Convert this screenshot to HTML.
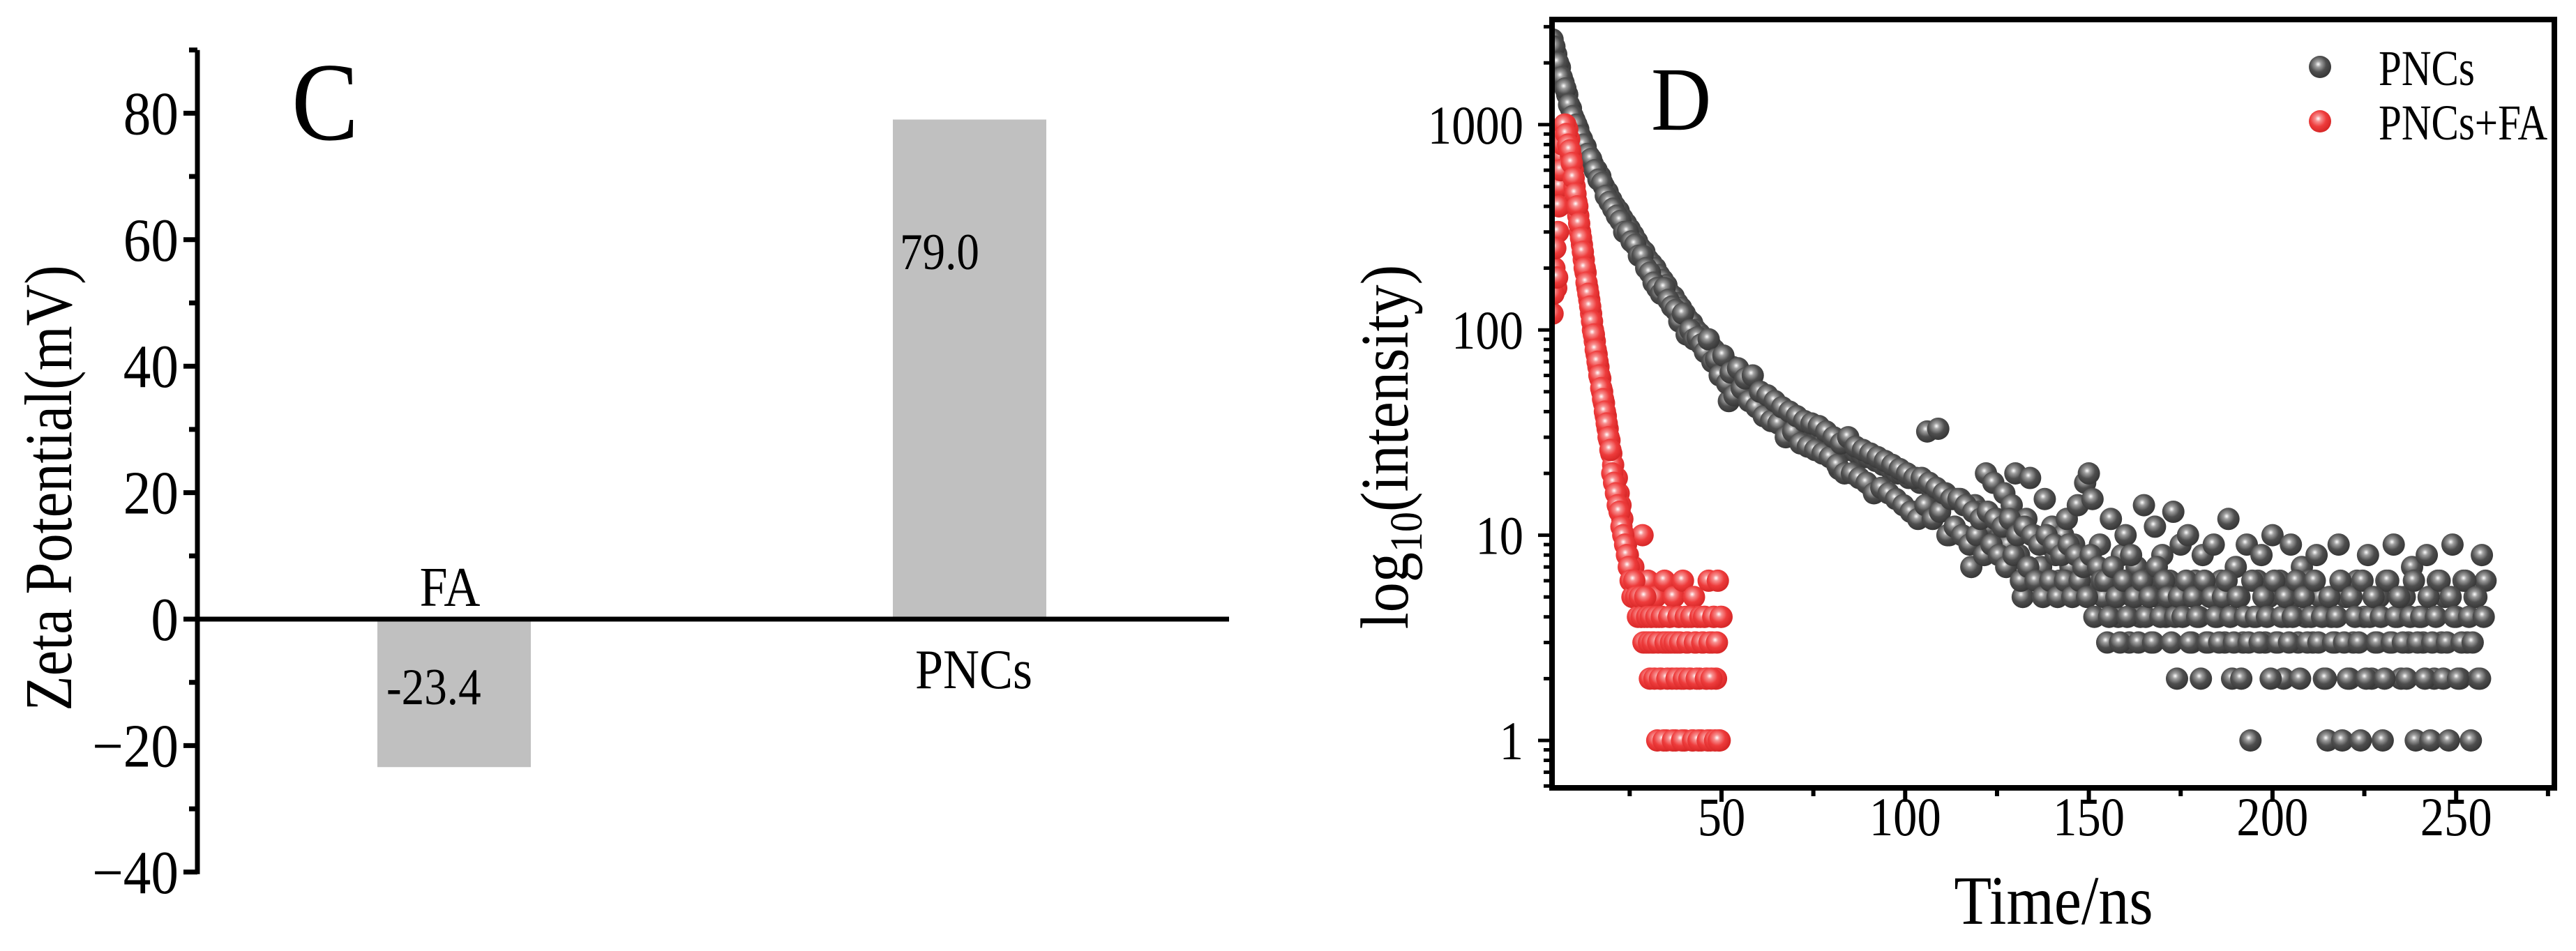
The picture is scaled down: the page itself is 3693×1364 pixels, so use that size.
<!DOCTYPE html>
<html><head><meta charset="utf-8"><style>
html,body{margin:0;padding:0;background:#fff;}
svg{display:block;font-family:"Liberation Serif",serif;}
</style></head><body>
<svg id="root" width="3693" height="1364" viewBox="0 0 3693 1364" xmlns="http://www.w3.org/2000/svg">
<defs>
<radialGradient id="gGray" cx="0.42" cy="0.38" r="0.6"><stop offset="0" stop-color="#ffffff"/><stop offset="0.22" stop-color="#a0a0a0"/><stop offset="0.6" stop-color="#4e4e4e"/><stop offset="1" stop-color="#383838"/></radialGradient>
<radialGradient id="gRed" cx="0.42" cy="0.38" r="0.6"><stop offset="0" stop-color="#ffffff"/><stop offset="0.22" stop-color="#f79090"/><stop offset="0.6" stop-color="#ee3c3c"/><stop offset="1" stop-color="#d82828"/></radialGradient>
</defs>
<g id="chartC"></g>
<g id="chartD"></g>
</svg>
<script>
// ---- Chart C data ----
const zetaCategories = ["FA", "PNCs"];
const zetaValues = [-23.4, 79.0];
const zetaLabels = ["-23.4", "79.0"];
const zetaTicks = [-40, -20, 0, 20, 40, 60, 80];

// ---- Chart D data ----
const pncsStart = 4;   // ns, step 1
const pncsValues = [
2600,2200,1900,1600,1400,1200,1050,950,850,780,700,640,600,560,500,470,430,400,380,350,330,310,290,270,250,240,220,210,200,185,175,165,150,145,135,128,120,112,108,100,96,92,88,84,80,76,73,70,45,66,63,60,58,55,53,52,50,48,46,45,40,43,42,40,39,38,37,36,35,34,33,33,32,31,30,30,29,28,21,28,27,26,26,25,25,24,24,17,23,23,22,22,21,21,20,20,20,19,13,19,18,18,32,17,17,33,16,16,10,15,15,15,14,14,7,14,
13,12,20,11,18,12,10,16,9,14,20,8,5,12,19,10,6,7,15,9,11,8,6,10,12,7,9,14,6,18,
20,15,6,9,5,3,12,6,4,8,
10,3,5,7,4,14,6,3,11,5,
8,4,6,13,2,9,5,10,3,6,
4,8,3,5,9,4,6,3,12,2,
7,5,3,9,1,4,6,8,3,5,
10,3,6,2,4,9,5,3,7,4,
6,3,8,5,2,1,4,3,9,1,
5,2,3,6,1,4,8,2,3,5,
1,6,3,9,4,2,5,3,7,1,
4,3,8,1,2,6,3,5,1,9,
4,2,6,3,1,5,2,8,6];
const pncsStartB = 4.5; // ns, step 1 (interleaved samples)
const pncsValuesB = [
2400,2000,1700,1500,1250,1100,1000,880,800,720,
680,600,540,520,450,420,390,360,340,300,
300,270,260,230,230,200,190,170,160,150,
160,140,130,125,110,120,95,100,90,92,
85,78,90,70,72,60,75,55,62,48,
65,52,58,45,60,42,50,38,48,36,
45,35,42,30,40,32,38,28,36,27,
35,26,34,25,32,24,30,22,28,20,
30,20,27,19,26,18,25,16,24,17,
23,16,22,15,21,14,20,13,19,12,
19,14,18,12,17,13,16,10,15,11,
15,10,14,9,13,10,12,8,13,9,
12,8,11,7,12,8,10,6,11,7,
10,6,9,5,10,6,9,5,8,6,
9,5,8,6,7,5,8,4,7,6,
6,4,7,5,3,6,4,8,5,3,
6,4,5,3,7,4,6,5,3,4,
5,4,6,3,5,4,2,6,3,5,
4,3,5,6,4,3,5,2,4,3,
6,4,3,5,4,2,6,3,4,5,
3,4,6,2,5,3,4,6,3,4,
2,5,3,4,6,3,2,5,4,3,
6,2,4,5,3,4,2,6,3,4,
5,3,2,4,6,3,4,2,5,3,
4,6,2,3,5,4,2,3,6,4,
3,5,2,4];
const faStart = 4;     // ns, step 0.5
const faValues = [
120,200,160,300,500,700,900,1000,950,
850,700,600,500,420,360,300,260,
220,190,160,140,120,100,88,76,
66,58,50,44,38,33,29,25,
22,18,19,16,14,12,10,9,
8,7,6,7,5,6,5,4,
10,4,3,6,2,4,3,5,
1,4,2,3,6,1,3,4,
2,5,1,3,4,2,6,1,
3,4,2,1,5,3,4,2,
1,3,4,2,6,1,3,4,
2,6,1,4];
const faStartB = 4.25; // ns, step 0.5
const faValuesB = [
150,250,180,400,600,800,1000,900,800,
750,650,550,460,400,330,280,240,
200,170,150,130,110,95,80,70,
60,52,46,40,35,30,26,20,
18,16,14,13,11,10,9,8,
7,6,5,6,5,4,5,4,
3,5,4,3,4,3,2,4,
3,2,4,1,3,2,4,3,
1,3,2,4,3,1,2,4,
3,2,4,1,3,2,1,4,
3,4,2,1,3,2,4,1,
3,1,4];
const xTicks = [50, 100, 150, 200, 250];
const yTicks = [1, 10, 100, 1000];
const yTickLabels = ["1", "10", "100", "1000"];

const NS = "http://www.w3.org/2000/svg";
function mk(parent, tag, attrs, text) {
  const e = document.createElementNS(NS, tag);
  for (const k in attrs) e.setAttribute(k, attrs[k]);
  if (text !== undefined) e.textContent = text;
  parent.appendChild(e);
  return e;
}
// text with horizontal compression (sx) and optional rotation
function txt(parent, x, y, size, anchor, str, sx, rot) {
  const tr = 'translate(' + x + ',' + y + ')' + (rot ? ' rotate(' + rot + ')' : '') + ' scale(' + sx + ',1)';
  return mk(parent, 'text', {x: 0, y: 0, 'font-size': size, 'text-anchor': anchor, transform: tr}, str);
}

// ---------- Chart C ----------
(function(){
  const g = document.getElementById('chartC');
  const yC = v => 888 - v * 9.07;
  const axX = 283;
  const barCenters = [651, 1390];
  const bw = 220;
  zetaValues.forEach((v, i) => {
    const r = mk(g, 'rect', {x: barCenters[i] - bw/2, y: Math.min(yC(v), yC(0)), width: bw, height: Math.abs(yC(v) - yC(0)), fill: '#c0c0c0'});
    
    
  });
  const ax = mk(g, 'line', {x1: axX, y1: yC(90), x2: axX, y2: yC(-40) + 3, stroke: '#000', 'stroke-width': 7});
  
  
  for (let v = -40; v <= 90; v += 10) {
    const major = v % 20 === 0;
    const t = mk(g, 'line', {x1: axX - (major ? 20 : 12), y1: yC(v), x2: axX, y2: yC(v), stroke: '#000', 'stroke-width': 7});
    
    
  }
  zetaTicks.forEach(v => {
    const t = txt(g, 256, yC(v) + 30, 88, 'end', v < 0 ? '\u2212' + Math.abs(v) : String(v), 0.9);
    
    
  });
  const zl = mk(g, 'line', {x1: axX, y1: yC(0), x2: 1762, y2: yC(0), stroke: '#000', 'stroke-width': 7});
  
  
  const catPos = [[645, 869], [1396, 987]];
  zetaCategories.forEach((c, i) => {
    const t = txt(g, catPos[i][0], catPos[i][1], 80, 'middle', c, 0.9);
    
    
  });
  const valPos = [[554, 1010], [1290, 386]];
  zetaLabels.forEach((s, i) => {
    const t = txt(g, valPos[i][0], valPos[i][1], 74, 'start', s, 0.88);
    
    
  });
  const title = txt(g, 102, 700, 96, 'middle', 'Zeta Potential(mV)', 0.86, -90);
  
  
  const pl = txt(g, 418, 200, 160, 'start', 'C', 0.9);
  
  
})();

// ---------- Chart D ----------
(function(){
  const g = document.getElementById('chartD');
  const L = 2225, R = 3662, T = 28, B = 1130;
  const xD = t => 2468 + (t - 50) * 5.266;
  const yD = v => 1062 - Math.log10(v) * 294.4;
  const r = 16;
  const clip = mk(g, 'clipPath', {id: 'clipD'});
  mk(clip, 'rect', {x: L, y: T, width: R - L, height: B - T});
  const pts = mk(g, 'g', {'clip-path': 'url(#clipD)'});
  const sG = mk(pts, 'g', {});
  
  
  pncsValues.forEach((v, i) => {
    const c = mk(sG, 'circle', {cx: xD(pncsStart + i), cy: yD(v), r: r, fill: 'url(#gGray)'});
    
    
  });
  pncsValuesB.forEach((v, i) => {
    const c = mk(sG, 'circle', {cx: xD(pncsStartB + i), cy: yD(v), r: r, fill: 'url(#gGray)'});
    
    
  });
  const sR = mk(pts, 'g', {});
  
  
  faValues.forEach((v, i) => {
    const c = mk(sR, 'circle', {cx: xD(faStart + i * 0.5), cy: yD(v), r: r, fill: 'url(#gRed)'});
    
    
  });
  faValuesB.forEach((v, i) => {
    const c = mk(sR, 'circle', {cx: xD(faStartB + i * 0.5), cy: yD(v), r: r, fill: 'url(#gRed)'});
    
    
  });
  const fr = mk(g, 'rect', {x: L, y: T, width: R - L, height: B - T, fill: 'none', stroke: '#000', 'stroke-width': 8});
  
  
  for (let t = 25; t <= 275; t += 25) {
    const major = t % 50 === 0;
    const tk = mk(g, 'line', {x1: xD(t), y1: B, x2: xD(t), y2: B + (major ? 20 : 12), stroke: '#000', 'stroke-width': 6});
    
    
  }
  xTicks.forEach(t => {
    const tl = txt(g, xD(t), 1198, 78, 'middle', String(t), 0.88);
    
    
  });
  for (let d = 0.1; d < 10000; d *= 10) {
    for (let m = 1; m <= 9; m++) {
      const v = d * m;
      const y = yD(v);
      if (y < T || y > B) continue;
      const major = m === 1;
      const tk = mk(g, 'line', {x1: L - (major ? 20 : 12), y1: y, x2: L, y2: y, stroke: '#000', 'stroke-width': 5});
      
      
    }
  }
  yTicks.forEach((v, i) => {
    const tl = txt(g, 2184, yD(v) + 27, 78, 'end', yTickLabels[i], 0.88);
    
    
  });
  const yt = mk(g, 'text', {x: 0, y: 0, 'text-anchor': 'middle', 'font-size': 98, transform: 'translate(2018,641) rotate(-90) scale(0.88,1)'});
  
  
  mk(yt, 'tspan', {}, 'log');
  mk(yt, 'tspan', {'font-size': 66, dy: 20}, '10');
  mk(yt, 'tspan', {dy: -20}, '(intensity)');
  const xt = txt(g, 2944, 1325, 100, 'middle', 'Time/ns', 0.88);
  
  
  const pl = txt(g, 2367, 186, 130, 'start', 'D', 0.92);
  
  
  const lg = mk(g, 'g', {});
  
  
  const e1 = mk(lg, 'circle', {cx: 3326, cy: 96, r: r, fill: 'url(#gGray)'});
  
  
  const t1 = txt(lg, 3410, 122, 72, 'start', 'PNCs', 0.82);
  
  
  const e2 = mk(lg, 'circle', {cx: 3326, cy: 174, r: r, fill: 'url(#gRed)'});
  
  
  const t2 = txt(lg, 3410, 200, 72, 'start', 'PNCs+FA', 0.82);
  
  
})();
</script>
</body></html>
